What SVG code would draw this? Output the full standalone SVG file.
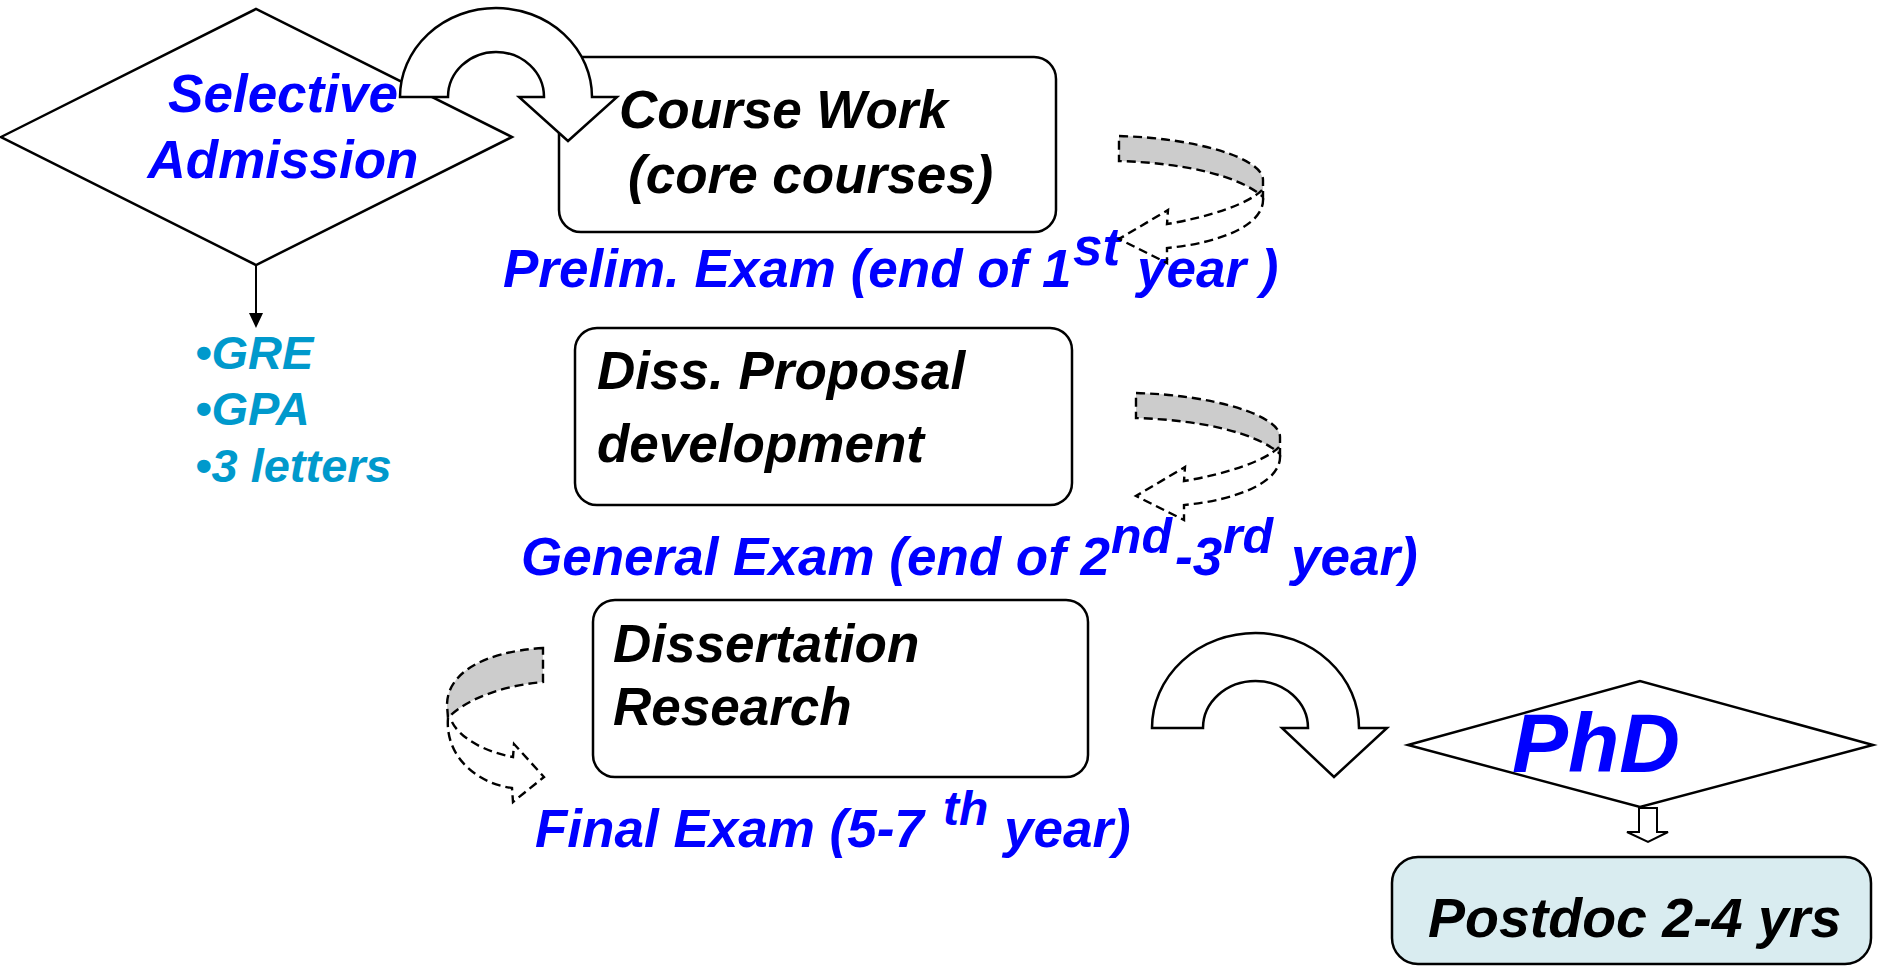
<svg xmlns="http://www.w3.org/2000/svg" width="1878" height="967" viewBox="0 0 1878 967">
  <style>
    .shape { fill: #ffffff; stroke: #000000; stroke-width: 2.5; }
    .box { fill: #ffffff; stroke: #000000; stroke-width: 2.5; }
    .dash { fill: none; stroke: #000000; stroke-width: 2.4; stroke-dasharray: 9 5; }
    .dash-gray { fill: #cccccc; stroke: #000000; stroke-width: 2.4; stroke-dasharray: 9 5; }
    text { font-family: "Liberation Sans", Arial, sans-serif; font-weight: bold; font-style: italic; }
    .blue { fill: #0000ff; font-size: 53px; }
    .black { fill: #000000; font-size: 53px; }
    .bullet { fill: #0099cc; font-size: 47px; }
  </style>
  <defs>
    <!-- dashed curled arrow pointing back to the left -->
    <g id="curl-left">
      <path class="dash-gray" d="M1119,136 C1195,138 1263,158 1263,180 L1263,197 C1240,176 1185,163 1119,161 Z"/>
      <path class="dash" d="M1263,198 C1265,225 1220,243 1167,248 L1167,263 L1119,239 L1168,210 L1167,224 C1210,217 1250,203 1262,190"/>
    </g>
  </defs>

  <!-- boxes -->
  <g id="course-work">
    <rect class="box" x="559" y="57" width="497" height="175" rx="22"/>
    <text class="black" x="619" y="128">Course Work</text>
    <text class="black" x="628" y="193">(core courses)</text>
  </g>

  <g id="diss-proposal">
    <rect class="box" x="575" y="328" width="497" height="177" rx="22"/>
    <text class="black" x="597" y="389">Diss. Proposal</text>
    <text class="black" x="597" y="462">development</text>
  </g>

  <g id="dissertation-research">
    <rect class="box" x="593" y="600" width="495" height="177" rx="22"/>
    <text class="black" x="613" y="662">Dissertation</text>
    <text class="black" x="613" y="725">Research</text>
  </g>

  <g id="selective-admission">
    <polygon class="shape" points="1,137 256,9 512,137 256,265"/>
    <text class="blue" x="283" y="112" text-anchor="middle">Selective</text>
    <text class="blue" x="283" y="178" text-anchor="middle">Admission</text>
  </g>

  <g id="criteria">
    <text class="bullet" x="195" y="369">•GRE</text>
    <text class="bullet" x="195" y="425">•GPA</text>
    <text class="bullet" x="195" y="482">•3 letters</text>
  </g>

  <g id="phd">
    <polygon class="shape" points="1408,745 1640,681 1873,745 1640,807"/>
    <text x="1512" y="772" fill="#0000ff" font-size="84">PhD</text>
  </g>

  <g id="postdoc">
    <rect x="1392" y="857" width="479" height="107" rx="26" fill="#d9ecf0" stroke="#000000" stroke-width="2.5"/>
    <text x="1428" y="937" fill="#000000" font-size="55.5">Postdoc 2-4 yrs</text>
  </g>

  <!-- exam labels -->
  <g id="prelim-exam">
    <text class="blue" y="287"><tspan x="503">Prelim. Exam (end of 1</tspan><tspan x="1073" y="265">st</tspan><tspan x="1137" y="287">year )</tspan></text>
  </g>

  <g id="general-exam">
    <text class="blue" y="575"><tspan x="521">General Exam (end of 2</tspan><tspan x="1111" y="553" font-size="50">nd</tspan><tspan x="1175" y="575">-3</tspan><tspan x="1223" y="553" font-size="50">rd</tspan><tspan x="1291" y="575">year)</tspan></text>
  </g>

  <g id="final-exam">
    <text class="blue" y="847"><tspan x="535">Final Exam (5-7</tspan><tspan x="943" y="825" font-size="48">th</tspan><tspan x="1004" y="847">year)</tspan></text>
  </g>

  <!-- connectors -->
  <g id="connectors">
    <line x1="256" y1="265" x2="256" y2="314" stroke="#000000" stroke-width="2"/>
    <polygon points="249,313 263,313 256,328" fill="#000000"/>

    <!-- block arrow: admission to course work -->
    <path class="shape" d="M400,97 A96,89 0 0 1 592,97 L617,97 L568,141 L519,97 L544,97 A48,45 0 0 0 448,97 Z"/>

    <!-- block arrow: research to PhD -->
    <path class="shape" d="M1152,728 A103.5,95 0 0 1 1359,728 L1387,728 L1334,777 L1282,728 L1308,728 A52.5,47 0 0 0 1203,728 Z"/>

    <!-- small hollow arrow: PhD to postdoc -->
    <path fill="#ffffff" stroke="#000000" stroke-width="2" d="M1639,808 L1657,808 L1657,832 L1668,832 L1648,842 L1627,832 L1639,832 Z"/>

    <!-- dashed curls beside the exam labels -->
    <use href="#curl-left"/>
    <use href="#curl-left" transform="translate(17,257)"/>

    <path class="dash-gray" d="M543,648 C480,652 447,675 447,705 L448,718 C465,700 500,686 543,682 Z"/>
    <path class="dash" d="M448,718 C445,755 475,783 512,788 L513,802 L544,777 L514,744 L513,757 C485,752 460,738 452,722"/>
  </g>
</svg>
